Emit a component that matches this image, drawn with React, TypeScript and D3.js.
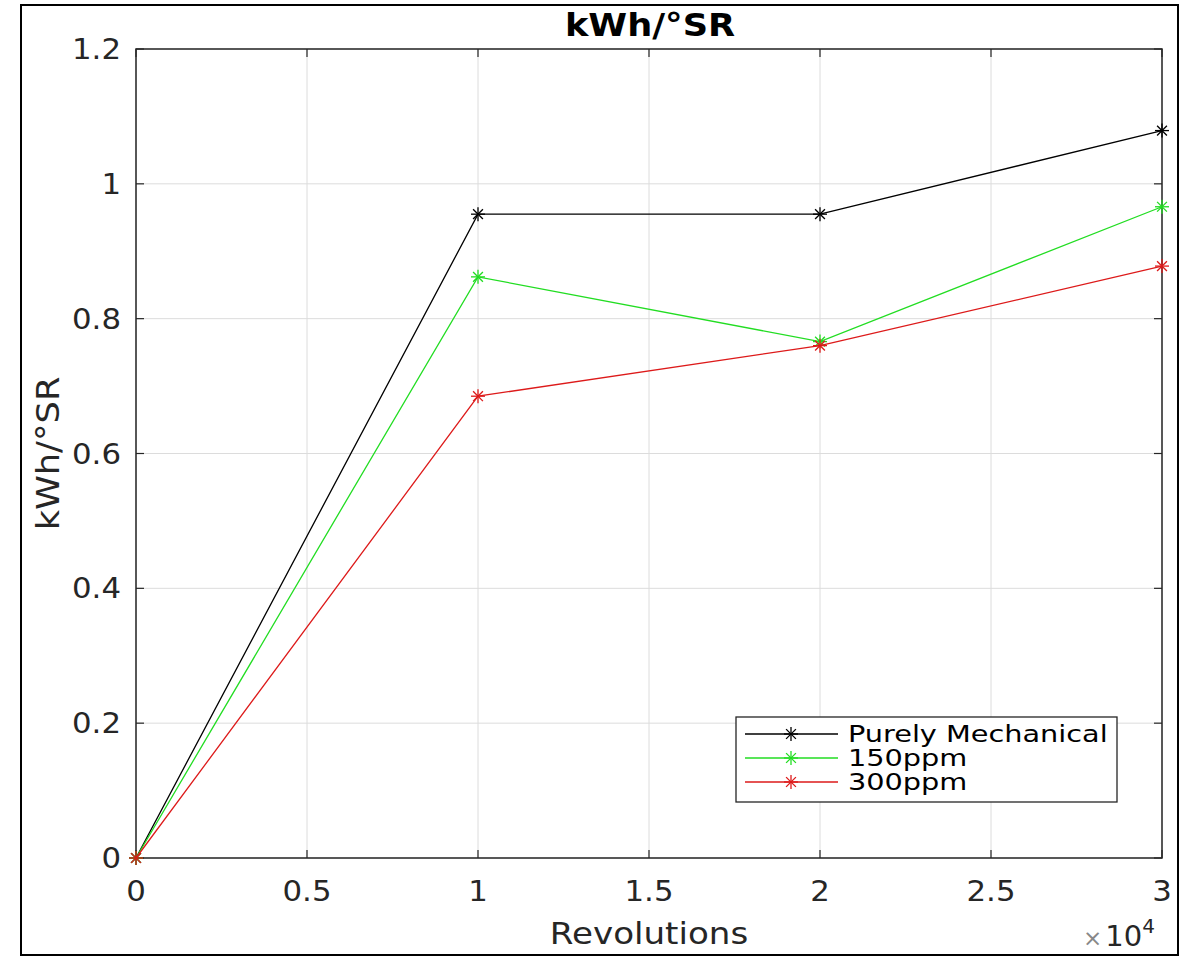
import React from "react";
import * as d3 from "d3";

const revolutions = [0, 10000, 20000, 30000];
const mechanical = [0, 0.955, 0.955, 1.079];
const ppm150 = [0, 0.862, 0.766, 0.966];
const ppm300 = [0, 0.685, 0.76, 0.878];
const xTicks = [0, 5000, 10000, 15000, 20000, 25000, 30000];
const yTicks = [0, 0.2, 0.4, 0.6, 0.8, 1, 1.2];
const seriesNames = ["Purely Mechanical", "150ppm", "300ppm"];
const seriesColors = ["#000000", "#22dd22", "#dd1a1a"];

const W = 1190, H = 956;
const L = 136, R = 1162, T = 49, B = 858;
const FONT = "DejaVu Sans, sans-serif";
const SX = 1.1;

function Star({ x, y, color }: { x: number; y: number; color: string }) {
  const s = 7;
  const d = s * 0.7;
  return (
    <g stroke={color} strokeWidth={1.3}>
      <line x1={x - s} y1={y} x2={x + s} y2={y} />
      <line x1={x} y1={y - s} x2={x} y2={y + s} />
      <line x1={x - d} y1={y - d} x2={x + d} y2={y + d} />
      <line x1={x - d} y1={y + d} x2={x + d} y2={y - d} />
    </g>
  );
}

function T2({ x, y, anchor, size, weight, fill, sx, children }: any) {
  return (
    <text
      transform={`translate(${x},${y}) scale(${sx || SX},1)`}
      textAnchor={anchor || "start"}
      fontSize={size}
      fontWeight={weight || "normal"}
      fill={fill || "#262626"}
    >
      {children}
    </text>
  );
}

export default function App() {
  const x = d3.scaleLinear().domain([0, 30000]).range([L, R]);
  const y = d3.scaleLinear().domain([0, 1.2]).range([B, T]);
  const all = [mechanical, ppm150, ppm300];
  const line = d3
    .line<number>()
    .x((_, i) => x(revolutions[i]))
    .y((d) => y(d));
  const legY = [734, 758, 782];
  return (
    <svg width={W} height={H} style={{ position: "absolute", left: 0, top: 0 }} fontFamily={FONT}>
      <rect x={0} y={0} width={W} height={H} fill="#fff" />
      <rect x={21} y={5} width={1157} height={950} fill="none" stroke="#000" strokeWidth={2} />
      {/* grid */}
      {xTicks.map((t) => (
        <line key={"gx" + t} x1={x(t)} x2={x(t)} y1={T} y2={B} stroke="#dcdcdc" strokeWidth={1} />
      ))}
      {yTicks.map((t) => (
        <line key={"gy" + t} x1={L} x2={R} y1={y(t)} y2={y(t)} stroke="#dcdcdc" strokeWidth={1} />
      ))}
      {/* ticks */}
      {xTicks.map((t) => (
        <g key={"tx" + t} stroke="#262626" strokeWidth={1.2}>
          <line x1={x(t)} x2={x(t)} y1={B} y2={B - 8} />
          <line x1={x(t)} x2={x(t)} y1={T} y2={T + 8} />
        </g>
      ))}
      {yTicks.map((t) => (
        <g key={"ty" + t} stroke="#262626" strokeWidth={1.2}>
          <line x1={L} x2={L + 8} y1={y(t)} y2={y(t)} />
          <line x1={R} x2={R - 8} y1={y(t)} y2={y(t)} />
        </g>
      ))}
      <rect x={L} y={T} width={R - L} height={B - T} fill="none" stroke="#262626" strokeWidth={1.5} />
      {/* tick labels */}
      {xTicks.map((t) => (
        <T2 key={"lx" + t} x={x(t)} y={B + 43} anchor="middle" size={28}>
          {d3.format("~g")(t / 10000)}
        </T2>
      ))}
      {yTicks.map((t) => (
        <T2 key={"ly" + t} x={L - 15} y={y(t) + 10} anchor="end" size={28}>
          {d3.format("~g")(t)}
        </T2>
      ))}
      <text x={1083} y={946} fontSize={29} fill="#262626">
        <tspan fill="#888" fontSize={23}>×</tspan>
        <tspan dx={3}>10</tspan>
        <tspan dy={-13} fontSize={20}>4</tspan>
      </text>
      {/* labels */}
      <T2 x={650} y={36} anchor="middle" size={32} weight="bold" fill="#000">
        kWh/°SR
      </T2>
      <T2 x={649} y={944} anchor="middle" size={31}>
        Revolutions
      </T2>
      <text
        transform={`translate(59, ${(T + B) / 2}) rotate(-90) scale(${SX},1)`}
        textAnchor="middle"
        fontSize={32}
        fill="#262626"
      >
        kWh/°SR
      </text>
      {/* series */}
      {all.map((s, k) => (
        <g key={"s" + k}>
          <path d={line(s) || ""} fill="none" stroke={seriesColors[k]} strokeWidth={1.3} />
          {s.map((v, i) => (
            <Star key={i} x={x(revolutions[i])} y={y(v)} color={seriesColors[k]} />
          ))}
        </g>
      ))}
      {/* legend */}
      <rect x={736} y={717} width={381} height={85} fill="#fff" stroke="#262626" strokeWidth={1.3} />
      {seriesNames.map((n, k) => (
        <g key={"lg" + k}>
          <line x1={745} x2={838} y1={legY[k]} y2={legY[k]} stroke={seriesColors[k]} strokeWidth={1.3} />
          <Star x={791} y={legY[k]} color={seriesColors[k]} />
          <T2 x={848} y={legY[k] + 8} size={23} sx={1.25} fill="#000">
            {n}
          </T2>
        </g>
      ))}
    </svg>
  );
}
